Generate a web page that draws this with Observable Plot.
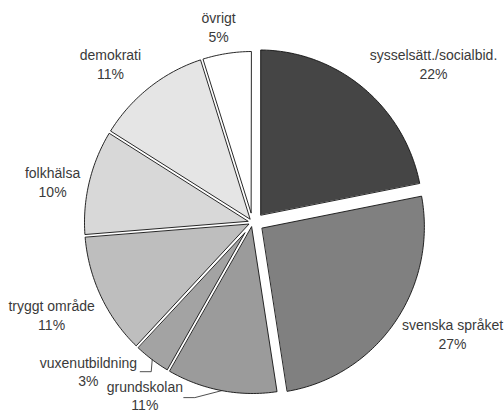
<!DOCTYPE html>
<html><head><meta charset="utf-8">
<script src="https://cdn.jsdelivr.net/npm/d3@7"></script>
<script src="https://cdn.jsdelivr.net/npm/@observablehq/plot@0.6"></script>
<style>body{margin:0;background:#fff}</style>
</head><body><div id="chart"></div>
<script>
// Slices, clockwise from 12 o'clock
const categories = ["sysselsätt./socialbid.", "svenska språket", "grundskolan", "vuxenutbildning", "tryggt område", "folkhälsa", "demokrati", "övrigt"];
// slice sizes (percent)
const shares = [21.9, 25.6, 10.8, 3.7, 11.7, 10.1, 11.25, 4.9];
// printed percentage labels
const pctLabels = ["22%", "27%", "11%", "3%", "11%", "10%", "11%", "5%"];
const exploded = [true, true, false, false, false, false, false, false];
const greys = ["#454545", "#808080", "#9b9b9b", "#a3a3a3", "#bebebe", "#d8d8d8", "#e5e5e5", "#ffffff"];
// label placement (degrees clockwise from north, radius in pie radii)
const labelAngle = [49.2, 118.6, 212.4, 228.3, 245.8, 281.4, 317.7, 350];
const labelRadius = [1.423, 1.356, 1.196, 1.308, 1.311, 1.214, 1.257, 1.164];
// leader lines: kink offsets in px [dx1, dy1, dx2, dy2]
const leaderKinks = {2: [-27, 7, -11, 0], 3: [-1, 12, -11, 0]};

const W = 504, H = 412, cx = 252, cy = 222, rx = 168, ry = 171;
const total = d3.sum(shares);
let acc = 0;
const slices = categories.map((name, i) => {
  const a0 = acc / total * 2 * Math.PI; acc += shares[i];
  const a1 = acc / total * 2 * Math.PI;
  return {name, i, a0, a1, mid: (a0 + a1) / 2};
});
const pad = 1.5 / 169;
const explodeDist = 0.044, explodeR = 0.975;
const pts = [];
for (const s of slices) {
  const ex = exploded[s.i];
  const R = ex ? explodeR : 1;
  const off = ex ? explodeDist : 0;
  const ox = off * Math.sin(s.mid) + (ex ? 0.012 : 0), oy = -off * Math.cos(s.mid);
  const half = (s.a1 - s.a0) / 2;
  const apexD = pad / Math.sin(half);
  pts.push({name: s.name, x: ox + apexD * Math.sin(s.mid), y: oy - apexD * Math.cos(s.mid)});
  const b0 = s.a0 + pad / R, b1 = s.a1 - pad / R;
  const n = Math.max(2, Math.ceil((b1 - b0) / (Math.PI / 180)));
  for (let k = 0; k <= n; k++) {
    const a = b0 + (b1 - b0) * k / n;
    pts.push({name: s.name, x: ox + R * Math.sin(a), y: oy - R * Math.cos(a)});
  }
}
const leaders = [];
for (const [key, k] of Object.entries(leaderKinks)) {
  const s = slices[+key];
  const x0 = Math.sin(s.mid), y0 = -Math.cos(s.mid);
  const x1 = x0 + k[0] / rx, y1 = y0 + k[1] / ry;
  const x2 = x1 + k[2] / rx, y2 = y1 + k[3] / ry;
  leaders.push({name: s.name, x: x0, y: y0}, {name: s.name, x: x1, y: y1}, {name: s.name, x: x2, y: y2});
}
const labels = slices.map(s => {
  const a = labelAngle[s.i] * Math.PI / 180, r = labelRadius[s.i];
  return {x: r * Math.sin(a), y: -r * Math.cos(a), text: s.name + "\n" + pctLabels[s.i]};
});

const chart = Plot.plot({
  width: W, height: H, margin: 0,
  x: {domain: [-cx / rx, (W - cx) / rx], range: [0, W], axis: null},
  y: {domain: [-cy / ry, (H - cy) / ry], range: [0, H], axis: null},
  color: {domain: categories, range: greys},
  style: {fontFamily: "'Liberation Sans', Arial, sans-serif", background: "#fff"},
  marks: [
    Plot.line(pts, {x: "x", y: "y", z: "name", fill: "name", stroke: "#111", strokeWidth: 0.9, curve: "linear-closed"}),
    Plot.line(leaders, {x: "x", y: "y", z: "name", stroke: "#222", strokeWidth: 0.8}),
    Plot.text(labels, {x: "x", y: "y", text: "text", fontSize: 14, lineHeight: 1.32, fill: "#3a3a3a", lineAnchor: "middle"})
  ]
});
document.getElementById("chart").append(chart);
</script>
</body></html>
